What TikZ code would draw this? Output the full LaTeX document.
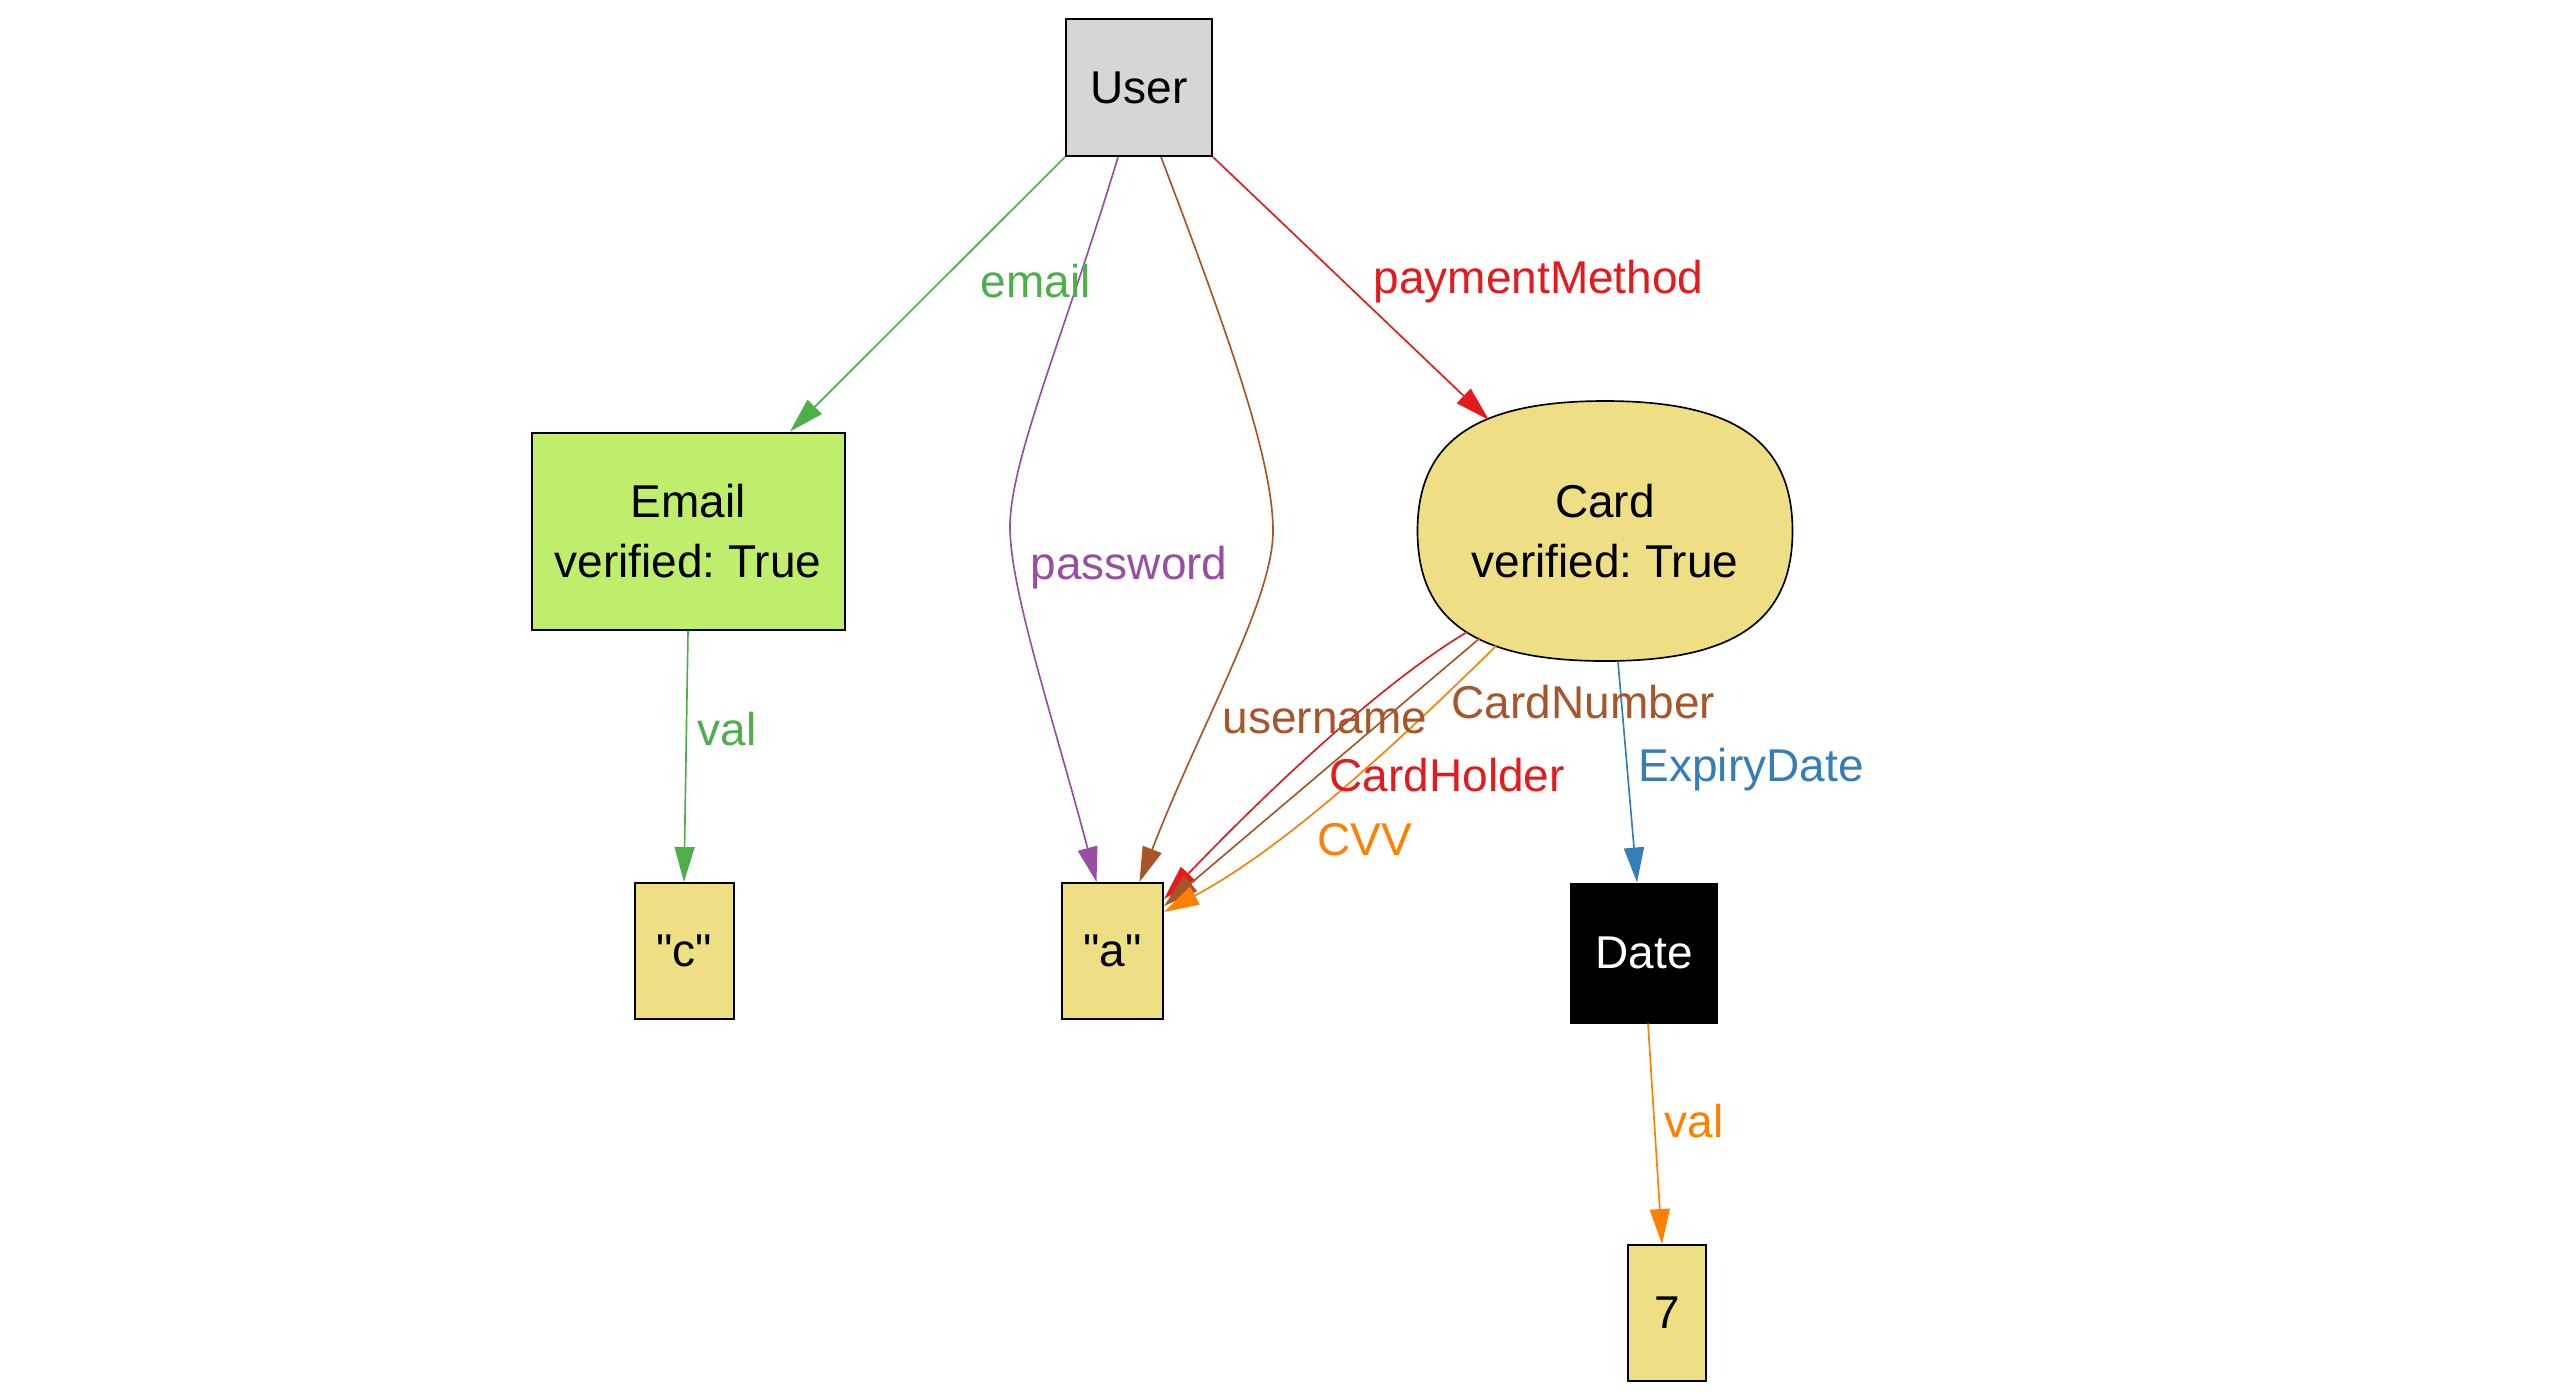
\documentclass[tikz,border=0pt]{standalone}
\usepackage{fontspec}
\setmainfont{Liberation Sans}[Ligatures=TeXOff]
\frenchspacing
\usetikzlibrary{arrows.meta,calc}
\definecolor{cred}{HTML}{E41A1C}
\definecolor{cblue}{HTML}{377EB8}
\definecolor{cgreen}{HTML}{4DAF4A}
\definecolor{cpurple}{HTML}{984EA3}
\definecolor{corange}{HTML}{FF7F00}
\definecolor{cbrown}{HTML}{A65628}
\definecolor{cgrey}{HTML}{D6D6D6}
\definecolor{cemail}{HTML}{BFEE6C}
\definecolor{cval}{HTML}{EEDF85}
\begin{document}
\begin{tikzpicture}[x=0.3pt,y=-0.3pt,
  every node/.style={font=\fontsize{13.8pt}{18pt}\selectfont},
  box/.style={draw=black,line width=0.6pt,rectangle,inner sep=0pt,align=center},
  lbl/.style={anchor=base west,inner sep=0pt},
  edge/.style={line width=0.5pt,-{Triangle[length=10.5pt,width=6pt]}},
]
\useasboundingbox (0,0) rectangle (2550,1399);

% Card shape (superellipse)
\begin{scope}[shift={(1605,531)}]
\path[draw=black,line width=0.5pt,fill=cval]
  (187.5,0) .. controls +(0,89.7) and +(129.4,0) .. (0,130)
  .. controls +(-129.4,0) and +(0,89.7) .. (-187.5,0)
  .. controls +(0,-89.7) and +(-129.4,0) .. (0,-130)
  .. controls +(129.4,0) and +(0,-89.7) .. (187.5,0) -- cycle;
\end{scope}

% Nodes
\node[box,fill=cgrey,minimum width=43.8pt,minimum height=41.1pt] (user) at (1139,87.5) {User};
\node[box,fill=cemail,minimum width=93.9pt,minimum height=59.1pt] (email) at (688,531) {Email\\verified: True};
\node[inner sep=0pt,align=center,minimum width=112.5pt,minimum height=78pt] (card) at (1605,531) {Card\\verified: True};
\node[box,fill=cval,minimum width=29.7pt,minimum height=40.8pt] (c) at (684,951) {"c"};
\node[box,fill=cval,minimum width=30.3pt,minimum height=40.8pt] (a) at (1112.5,951) {"a"};
\node[box,fill=black,text=white,minimum width=43.8pt,minimum height=41.7pt] (date) at (1644,953) {Date};
\node[box,fill=cval,minimum width=23.4pt,minimum height=40.8pt] (seven) at (1667,1313) {7};

% Edges
\draw[edge,cgreen] (user.south west) -- ($(email.north)+(102,0)$);
\draw[edge,cpurple] ($(user.south)+(-21,0)$) .. controls (1064,336) and (1010,460) .. (1010,527)
  .. controls (1010,590) and (1054,721) .. ($(a.north)+(-16,0)$);
\draw[edge,cbrown] ($(user.south)+(22,0)$) .. controls (1229,336) and (1273,460) .. (1273,531)
  .. controls (1273,600) and (1202,721) .. ($(a.north)+(27,0)$);
\draw[edge,cred] (user.south east) -- ($(card.center)+(-116,-111)$);
\draw[edge,cred] ($(card.center)+(-138,101)$) .. controls (1375,687) and (1256,803) .. ($(a.north east)+(0,17)$);
\draw[edge,cbrown] ($(card.center)+(-125,107)$) -- ($(a.north east)+(0,24)$);
\draw[edge,corange] ($(card.center)+(-109,115)$) .. controls (1396,744) and (1286,847) .. ($(a.north east)+(0,30)$);
\draw[edge,cblue] ($(card.center)+(13,131)$) -- ($(date.north)+(-7,0)$);
\draw[edge,cgreen] (email.south) -- (c.north);
\draw[edge,corange] ($(date.south)+(4,0)$) -- ($(seven.north)+(-5,0)$);

% Labels
\node[lbl,text=cgreen] (lemail) at (980,297) {email};
\node[lbl,text=cred] (lpay) at (1373,293) {paymentMethod};
\node[lbl,text=cpurple] (lpass) at (1030,579) {password};
\node[lbl,text=cgreen] (lval1) at (697,745) {val};
\node[lbl,text=cbrown] (luser) at (1222,733) {username};
\node[lbl,text=cbrown] (lnum) at (1451,718) {CardNumber};
\node[lbl,text=cred] (lholder) at (1329,791) {CardHolder};
\node[lbl,text=corange] (lcvv) at (1317,855) {CVV};
\node[lbl,text=cblue] (lexp) at (1638,781) {ExpiryDate};
\node[lbl,text=corange] (lval2) at (1664,1137) {val};
\end{tikzpicture}
\end{document}
